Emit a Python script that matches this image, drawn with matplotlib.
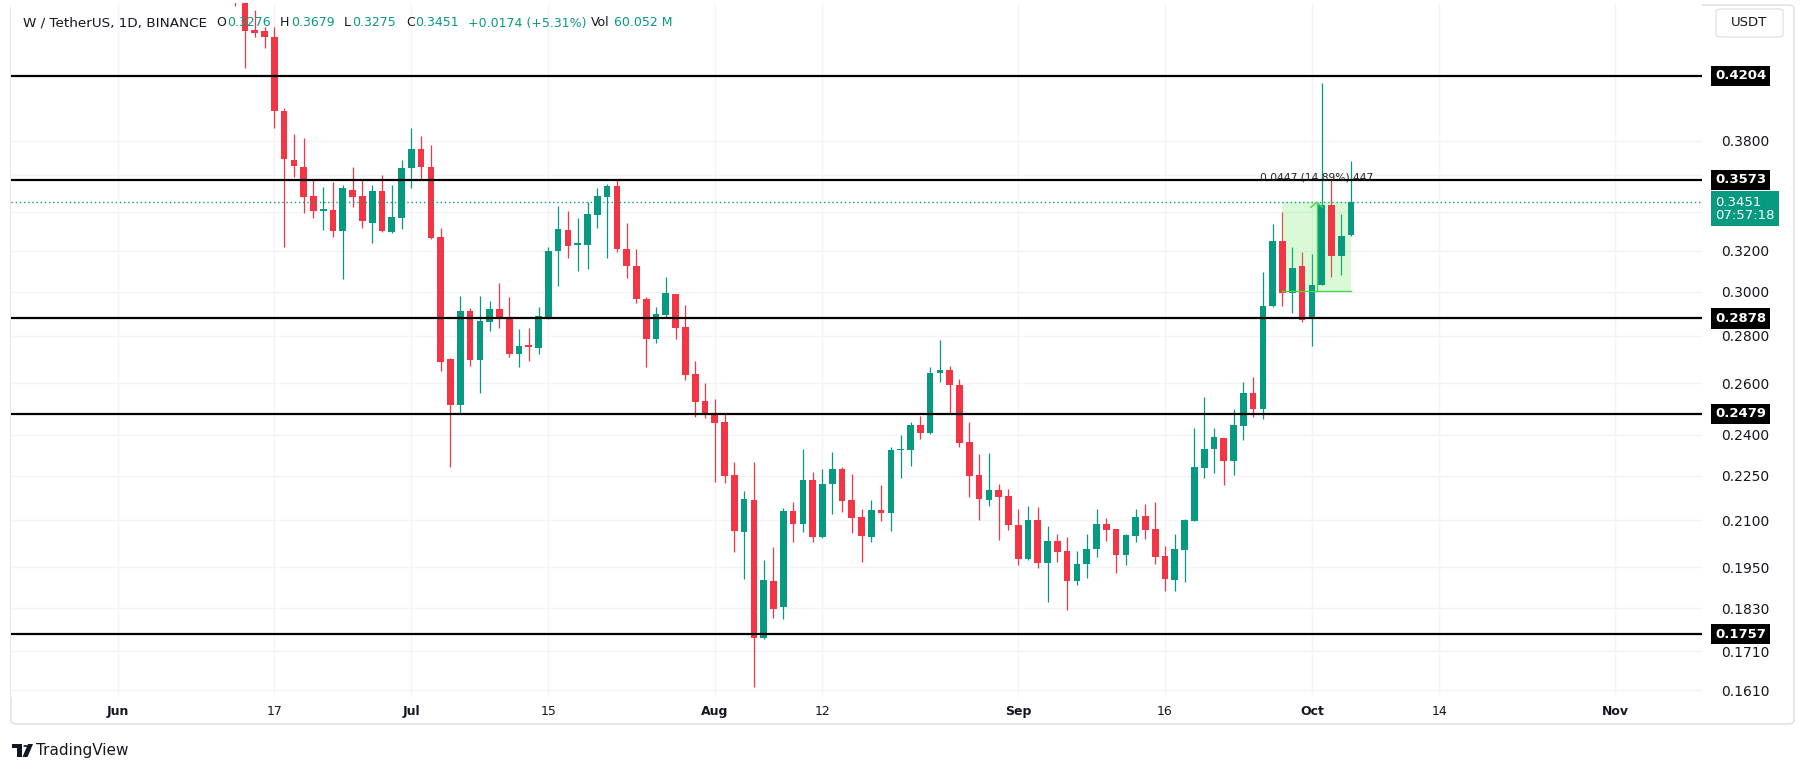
import datetime as dt
import matplotlib
matplotlib.use("Agg")
import matplotlib.pyplot as plt
import matplotlib.dates as mdates
from matplotlib.patches import FancyBboxPatch, Polygon, Circle, Rectangle
from matplotlib.ticker import FixedLocator, FixedFormatter, NullLocator

# ---------------- data ----------------
start_date = dt.date(2024, 6, 13)
opens = [0.4850, 0.4790, 0.4517, 0.4510, 0.4465, 0.3980, 0.3686, 0.3648, 0.3485, 0.3409,
         0.3409, 0.3300, 0.3517, 0.3485, 0.3342, 0.3512, 0.3295, 0.3365,
         0.3638, 0.3748, 0.3644, 0.3266, 0.2700, 0.2514, 0.2912, 0.2697, 0.2863, 0.2921,
         0.2878, 0.2722, 0.2756, 0.2749, 0.2878, 0.3200, 0.3304, 0.3232, 0.3228, 0.3383,
         0.3481, 0.3538, 0.3206, 0.3124, 0.2965, 0.2786, 0.2894, 0.2989, 0.2840, 0.2637,
         0.2530,
         0.2481, 0.2446, 0.2252, 0.2062, 0.2167, 0.1747, 0.1909, 0.1832, 0.2130, 0.2086,
         0.2235, 0.2044, 0.2220, 0.2274, 0.2167, 0.2109, 0.2046, 0.2133, 0.2124, 0.2342,
         0.2343, 0.2436, 0.2407, 0.2644, 0.2655, 0.2594, 0.2371, 0.2252, 0.2167, 0.2201,
         0.2180,
         0.2084, 0.1976, 0.2100, 0.1965, 0.2032, 0.2001, 0.1910, 0.1959, 0.2007, 0.2087,
         0.2070, 0.1988, 0.2049, 0.2113, 0.2070, 0.1985, 0.1912, 0.2004, 0.2098, 0.2277,
         0.2346, 0.2386, 0.2304, 0.2432, 0.2560, 0.2498, 0.2934, 0.3248, 0.2995, 0.3124,
         0.2886, 0.3032, 0.3436, 0.3175, 0.3276]
highs = [0.4950, 0.4850, 0.4660, 0.4540, 0.4540, 0.3997, 0.3839, 0.3813, 0.3579, 0.3532,
         0.3563, 0.3544, 0.3648, 0.3579, 0.3544, 0.3601, 0.3544, 0.3686,
         0.3874, 0.3827, 0.3773, 0.3313, 0.2704, 0.2980, 0.2924, 0.2980, 0.2957, 0.3040,
         0.2974, 0.2831, 0.2834, 0.2928, 0.3220, 0.3431, 0.3405, 0.3365, 0.3450, 0.3526,
         0.3548, 0.3573, 0.3342, 0.3206, 0.2977, 0.2931, 0.3069, 0.2992, 0.2939, 0.2693,
         0.2603,
         0.2536, 0.2481, 0.2298, 0.2197, 0.2298, 0.1973, 0.2012, 0.2139, 0.2159, 0.2346,
         0.2262, 0.2273, 0.2336, 0.2282, 0.2256, 0.2136, 0.2167, 0.2218, 0.2353, 0.2399,
         0.2446, 0.2472, 0.2669, 0.2782, 0.2671, 0.2617, 0.2446, 0.2328, 0.2331, 0.2221,
         0.2203,
         0.2136, 0.2147, 0.2142, 0.2080, 0.2056, 0.2046, 0.2001, 0.2056, 0.2136, 0.2108,
         0.2072, 0.2054, 0.2136, 0.2153, 0.2159, 0.2017, 0.2056, 0.2102, 0.2423, 0.2546,
         0.2423, 0.2388, 0.2497, 0.2607, 0.2625, 0.3096, 0.3334, 0.3400, 0.3217, 0.3194,
         0.3183, 0.4160, 0.3573, 0.3388, 0.3679]
lows = [0.4690, 0.4254, 0.4465, 0.4390, 0.3874, 0.3220, 0.3588, 0.3392, 0.3365, 0.3304,
        0.3269, 0.3059, 0.3427, 0.3316, 0.3236, 0.3295, 0.3290, 0.3307,
        0.3526, 0.3573, 0.3256, 0.2652, 0.2282, 0.2484, 0.2671, 0.2560, 0.2823, 0.2836,
        0.2711, 0.2666, 0.2694, 0.2721, 0.2874, 0.3027, 0.3165, 0.3101, 0.3108, 0.3313,
        0.3165, 0.3191, 0.3066, 0.2950, 0.2667, 0.2771, 0.2878, 0.2786, 0.2614, 0.2468,
        0.2462,
        0.2230, 0.2226, 0.1999, 0.1915, 0.1618, 0.1744, 0.1803, 0.1800, 0.2028, 0.2062,
        0.2028, 0.2043, 0.2119, 0.2128, 0.2058, 0.1968, 0.2030, 0.2097, 0.2064, 0.2243,
        0.2284, 0.2383, 0.2404, 0.2607, 0.2484, 0.2355, 0.2178, 0.2100, 0.2147, 0.2035,
        0.2067,
        0.1957, 0.1972, 0.1948, 0.1848, 0.1968, 0.1824, 0.1897, 0.1919, 0.1983, 0.2032,
        0.1934, 0.1957, 0.2030, 0.2038, 0.1959, 0.1880, 0.1880, 0.1907, 0.2098, 0.2243,
        0.2261, 0.2218, 0.2252, 0.2380, 0.2468, 0.2458, 0.2930, 0.2934, 0.2901, 0.2862,
        0.2757, 0.3030, 0.3072, 0.3080, 0.3275]
closes = [0.4790, 0.4513, 0.4494, 0.4469, 0.3982, 0.3693, 0.3653, 0.3481, 0.3405, 0.3413,
          0.3300, 0.3526, 0.3478, 0.3352, 0.3512, 0.3300, 0.3370, 0.3638,
          0.3748, 0.3644, 0.3261, 0.2690, 0.2514, 0.2912, 0.2697, 0.2866, 0.2921, 0.2881,
          0.2722, 0.2756, 0.2753, 0.2888, 0.3200, 0.3307, 0.3225, 0.3234, 0.3388, 0.3485,
          0.3540, 0.3206, 0.3125, 0.2965, 0.2786, 0.2898, 0.2995, 0.2836, 0.2633, 0.2526,
          0.2478,
          0.2444, 0.2250, 0.2065, 0.2169, 0.1747, 0.1912, 0.1826, 0.2130, 0.2086, 0.2235,
          0.2044, 0.2221, 0.2273, 0.2165, 0.2108, 0.2049, 0.2133, 0.2124, 0.2343, 0.2347,
          0.2436, 0.2407, 0.2641, 0.2655, 0.2594, 0.2370, 0.2250, 0.2170, 0.2201, 0.2178,
          0.2084,
          0.1976, 0.2100, 0.1965, 0.2033, 0.1999, 0.1910, 0.1960, 0.2007, 0.2087, 0.2067,
          0.1988, 0.2051, 0.2111, 0.2067, 0.1983, 0.1915, 0.2007, 0.2100, 0.2280, 0.2346,
          0.2390, 0.2304, 0.2436, 0.2562, 0.2498, 0.2934, 0.3248, 0.2995, 0.3116, 0.2872,
          0.3032, 0.3436, 0.3175, 0.3273, 0.3451]

levels = [0.4204, 0.3573, 0.2878, 0.2479, 0.1757]
last_price = 0.3451
countdown = "07:57:18"
y_ticks = [0.161, 0.171, 0.183, 0.195, 0.210, 0.225, 0.240, 0.260, 0.280, 0.300,
           0.320, 0.340, 0.360, 0.380]
y_tick_labels = ["0.1610", "0.1710", "0.1830", "0.1950", "0.2100", "0.2250", "0.2400",
                 "0.2600", "0.2800", "0.3000", "0.3200", "", "", "0.3800"]
x_tick_dates = [dt.date(2024, 6, 1), dt.date(2024, 6, 17), dt.date(2024, 7, 1),
                dt.date(2024, 7, 15), dt.date(2024, 8, 1), dt.date(2024, 8, 12),
                dt.date(2024, 9, 1), dt.date(2024, 9, 16), dt.date(2024, 10, 1),
                dt.date(2024, 10, 14), dt.date(2024, 11, 1)]
x_tick_labels = ["Jun", "17", "Jul", "15", "Aug", "12", "Sep", "16", "Oct", "14", "Nov"]
x_tick_bold = [True, False, True, False, True, False, True, False, True, False, True]

range_start = dt.date(2024, 9, 28)
range_end = dt.date(2024, 10, 5)
range_low = 0.3004
range_high = 0.3451
range_label = "0.0447 (14.89%) 447"

header = [("W / TetherUS, 1D, BINANCE", 23, "d", 9.7), ("O", 216, "d", 9), ("0.3276", 227, "g", 9),
          ("H", 280, "d", 9), ("0.3679", 291, "g", 9), ("L", 344, "d", 9), ("0.3275", 352, "g", 9),
          ("C", 406, "d", 9), ("0.3451", 415, "g", 9), ("+0.0174 (+5.31%)", 468, "g", 9),
          ("Vol", 591, "d", 9), ("60.052 M", 614, "g", 9)]

# ---------------- style ----------------
UP = "#089981"
DOWN = "#F23645"
DARK = "#131722"
GRID = "#f2f4f9"
W, H = 1804, 772


def fx(x):
    return x / W


def fy(y):
    return 1 - y / H


fig = plt.figure(figsize=(W / 100, H / 100), dpi=100)
fig.patch.set_facecolor("white")

L, R, T, B = 11, 1702, 3, 697
ax = fig.add_axes([fx(L), fy(B), (R - L) / W, (B - T) / H])
ax.set_facecolor("white")
ax.set_yscale("log")
ax.set_ylim(0.15925, 0.47114)
x_origin = mdates.date2num(dt.date(2024, 6, 1))
ax.set_xlim(x_origin - 10.90, x_origin + 161.86)

for s in ax.spines.values():
    s.set_visible(False)

# ticks and grid
ax.yaxis.set_major_locator(FixedLocator(y_ticks))
ax.yaxis.set_major_formatter(FixedFormatter(y_tick_labels))
ax.yaxis.set_minor_locator(NullLocator())
ax.yaxis.tick_right()
ax.tick_params(axis="y", length=0, pad=13.5, labelsize=10, labelcolor=DARK)

xt = [mdates.date2num(d) for d in x_tick_dates]
ax.set_xticks(xt)
ax.set_xticklabels(x_tick_labels)
ax.tick_params(axis="x", length=0, pad=6, labelsize=9, labelcolor=DARK)
for lab, b in zip(ax.get_xticklabels(), x_tick_bold):
    if b:
        lab.set_fontweight("bold")
ax.grid(True, color=GRID, lw=1.0, zorder=0)
ax.set_axisbelow(True)

# candles
for i, (o, h, l, c) in enumerate(zip(opens, highs, lows, closes)):
    d = mdates.date2num(start_date + dt.timedelta(days=i))
    col = UP if c >= o else DOWN
    ax.plot([d, d], [l, h], color=col, lw=0.9, zorder=2, solid_capstyle="butt")
    lo, hi = min(o, c), max(o, c)
    if hi - lo < lo * 0.003:
        mid = (hi + lo) / 2
        lo, hi = mid * 0.9985, mid * 1.0015
    ax.add_patch(Rectangle((d - 0.34, lo), 0.68, hi - lo, fc=col, ec="none", zorder=3))

# horizontal levels
for lv in levels:
    ax.axhline(lv, color="black", lw=1.6, zorder=5)

# last price dotted line
ax.axhline(last_price, color=UP, lw=1.0, ls=(0, (1, 2)), zorder=4)

# price range tool
rs = mdates.date2num(range_start)
re_ = mdates.date2num(range_end)
ax.add_patch(Rectangle((rs, range_low), re_ - rs, range_high - range_low,
                       fc=(0.35, 0.9, 0.3, 0.22), ec="none", zorder=2.5))
ax.plot([rs, re_], [range_low, range_low], color="#4cd44c", lw=1.0, zorder=4)
cx = (rs + re_) / 2
ax.plot([cx, cx], [range_low, range_high], color="#4cd44c", lw=1.0, zorder=4)
ax.plot([cx - 0.6, cx, cx + 0.6], [range_high * 0.992, range_high, range_high * 0.992],
        color="#4cd44c", lw=1.0, zorder=4)
ax.text(cx, 0.3584, range_label, ha="center", va="center", fontsize=7.7,
        color="#222222", zorder=6)

# price labels on the right axis
ytr = ax.get_yaxis_transform()
xa = (1715 - L) / (R - L)
for lv in levels:
    ax.text(xa, lv, f"{lv:.4f}", transform=ytr, ha="left", va="center", color="white",
            fontsize=9.5, fontweight="bold", zorder=10, clip_on=False,
            bbox=dict(boxstyle="square,pad=0.28", fc="black", ec="none"))
ax.text(xa, 0.3487, f"{last_price:.4f}\n{countdown}", transform=ytr, ha="left", va="top",
        color="white", fontsize=9.5, linespacing=1.0, zorder=10, clip_on=False,
        bbox=dict(boxstyle="square,pad=0.32", fc=UP, ec="none"))

# header
for txt, x, kind, fs in header:
    fig.text(fx(x), fy(23), txt, ha="left", va="center", fontsize=fs,
             color=DARK if kind == "d" else UP, zorder=20)

# USDT box
fig.patches.append(FancyBboxPatch((fx(1716), fy(37)), (1783 - 1716) / W, 28 / H,
                                  boxstyle="round,pad=0,rounding_size=0.003",
                                  transform=fig.transFigure, fc="white", ec="#e0e3eb",
                                  lw=1.0))
fig.text(fx(1749.5), fy(23), "USDT", ha="center", va="center", fontsize=9.5, color=DARK)

# widget border
fig.patches.append(FancyBboxPatch((fx(11), fy(724)), (1794 - 11) / W, (724 - 5) / H,
                                  boxstyle="round,pad=0,rounding_size=0.004",
                                  transform=fig.transFigure, fc="none", ec="#e0e3eb",
                                  lw=1.2, zorder=-1))

# TradingView logo + text
def P(pts):
    return [(fx(a), fy(b)) for a, b in pts]

fig.patches.append(Polygon(P([(12, 744), (22, 744), (22, 757), (17, 757), (17, 748), (12, 748)]),
                           closed=True, transform=fig.transFigure, fc=DARK, ec="none"))
fig.patches.append(Circle((fx(25.5), fy(746)), 2.2 / W, transform=fig.transFigure,
                          fc=DARK, ec="none"))
fig.patches.append(Polygon(P([(28, 744), (33, 744), (27.5, 757), (22.5, 757)]),
                           closed=True, transform=fig.transFigure, fc=DARK, ec="none"))
fig.text(fx(36), fy(750), "TradingView", ha="left", va="center", fontsize=11, color=DARK)

fig.savefig("out.png", dpi=100, facecolor="white")
